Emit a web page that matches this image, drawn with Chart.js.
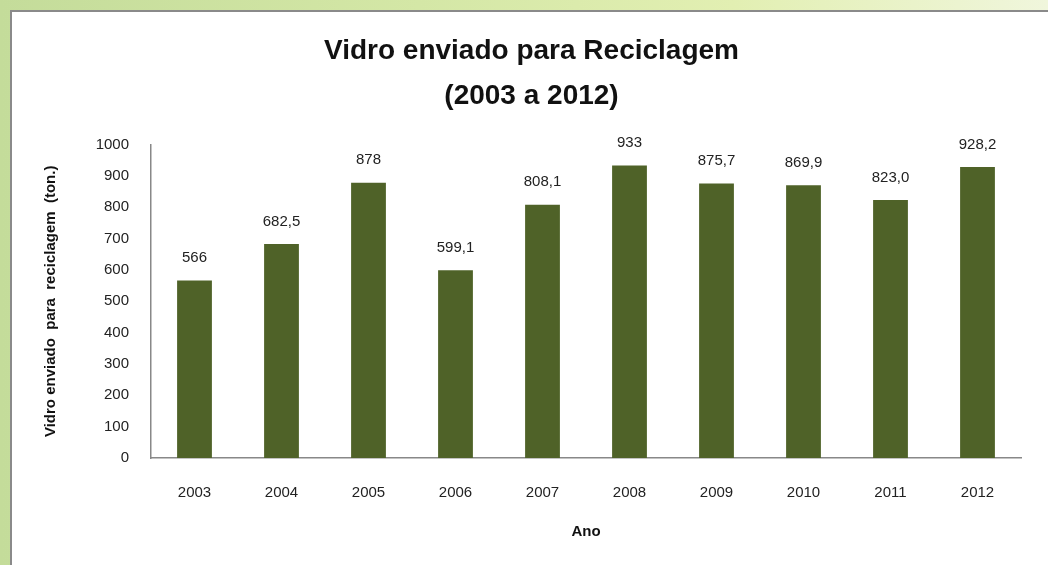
<!DOCTYPE html>
<html>
<head>
<meta charset="utf-8">
<script src="https://cdn.jsdelivr.net/npm/chart.js@4/dist/chart.umd.min.js"></script>
<style>
  html, body { margin: 0; padding: 0; width: 1048px; height: 565px; overflow: hidden; }
  body { background: linear-gradient(90deg, #c4dc9a 0%, #d4e7a6 40%, #e2efb2 70%, #f0f6dc 100%); }
  #wrap { position: absolute; left: 10px; top: 10px; width: 1038px; height: 555px; background: #fff;
          border-left: 2px solid #8a8a8a; border-top: 2px solid #8a8a8a; box-sizing: border-box; }
  canvas { display: block; }
</style>
</head>
<body>
<div id="wrap"><canvas id="chart" width="1036" height="553"></canvas></div>
<script>
'use strict';
var years = ['2003', '2004', '2005', '2006', '2007', '2008', '2009', '2010', '2011', '2012'];
var tons = [566, 682.5, 878, 599.1, 808.1, 933, 875.7, 869.9, 823.0, 928.2];
var valueLabels = ['566', '682,5', '878', '599,1', '808,1', '933', '875,7', '869,9', '823,0', '928,2'];

var fontFamily = "'Liberation Sans', Arial, sans-serif";

// Value labels above each bar
var barLabels = {
  id: 'barLabels',
  afterDatasetsDraw: function(chart) {
    var ctx = chart.ctx;
    var meta = chart.getDatasetMeta(0);
    ctx.save();
    ctx.font = '15px ' + fontFamily;
    ctx.fillStyle = '#222';
    ctx.textAlign = 'center';
    ctx.textBaseline = 'bottom';
    meta.data.forEach(function(bar, i) {
      ctx.fillText(valueLabels[i], bar.x, bar.y - 15);
    });
    ctx.restore();
  }
};

new Chart(document.getElementById('chart'), {
  type: 'bar',
  data: {
    labels: years,
    datasets: [{
      data: tons,
      backgroundColor: '#4f6228',
      borderWidth: 0,
      barPercentage: 0.4,
      categoryPercentage: 1
    }]
  },
  options: {
    responsive: false,
    animation: false,
    layout: { padding: { left: 30, right: 27, bottom: 20, top: 0 } },
    plugins: {
      legend: { display: false },
      tooltip: { enabled: false },
      title: {
        display: true,
        text: ['Vidro enviado para Reciclagem', '(2003 a 2012)'],
        color: '#111',
        font: { family: fontFamily, size: 28, weight: 'bold', lineHeight: 1.6 },
        padding: { top: 17, bottom: 26 }
      }
    },
    scales: {
      x: {
        grid: { display: false, drawTicks: false },
        border: { color: '#888', width: 1.5 },
        ticks: { color: '#222', font: { family: fontFamily, size: 15 }, padding: 26 },
        title: { display: true, text: 'Ano', color: '#111', font: { family: fontFamily, size: 15, weight: 'bold' }, padding: { top: 14 } },
        afterFit: function(scale) { scale.height = 87; }
      },
      y: {
        min: 0, max: 1000,
        grid: { display: false, drawTicks: false },
        border: { color: '#888', width: 1.5 },
        ticks: {
          stepSize: 100, color: '#222', font: { family: fontFamily, size: 15 }, padding: 22,
          callback: function(v) { return String(v); }
        },
        title: { display: true, text: 'Vidro enviado  para  reciclagem  (ton.)', color: '#111', font: { family: fontFamily, size: 15, weight: 'bold' }, padding: { top: 0, bottom: 0 } },
        afterFit: function(scale) { scale.width = 109; }
      }
    }
  },
  plugins: [barLabels]
});
</script>
</body>
</html>
